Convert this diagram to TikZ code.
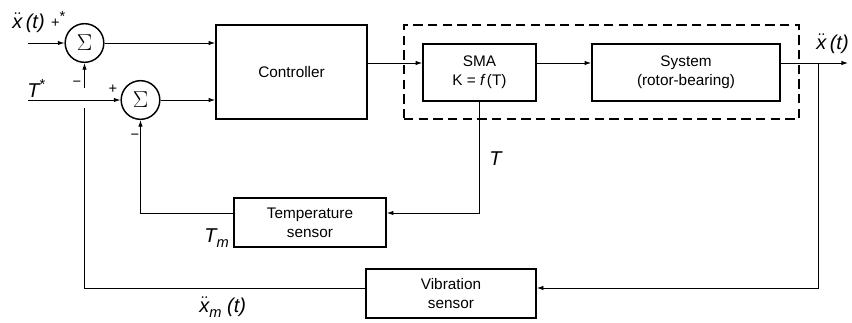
\documentclass[tikz,border=0pt]{standalone}
\usepackage{fontspec}
\setmainfont{Liberation Sans}
\usetikzlibrary{arrows.meta}
\newcommand{\xdd}{$\ddot{\mbox{\itshape x}}$}
\begin{document}
\begin{tikzpicture}[x=0.75pt,y=-0.75pt, >={Latex[length=5pt,width=3.4pt]}, line width=0.7pt]
\useasboundingbox (0,0) rectangle (852,322);
\tikzset{
 blk/.style={draw, line width=1.2pt, rectangle, align=center, inner sep=0pt, font=\fontsize{11.5}{14}\selectfont},
 sumn/.style={draw, circle, line width=1.1pt, minimum size=29pt, inner sep=0pt, font=\fontsize{16}{18}\selectfont},
 grp/.style={draw, line width=1.2pt, dash pattern=on 7pt off 4pt, inner sep=0pt},
 lab/.style={inner sep=0pt, anchor=base west, font=\fontsize{15}{17}\selectfont},
 sgn/.style={inner sep=0pt, font=\fontsize{11}{13}\selectfont},
}
% nodes
\node[sumn] (s1) at (84.5,43) {$\Sigma$};
\node[sumn] (s2) at (140.5,100) {$\Sigma$};
\node[blk, minimum width=151*0.75pt, minimum height=94*0.75pt] (ctrl) at (291.5,72) {Controller};
\node[grp, minimum width=395*0.75pt, minimum height=94*0.75pt] (plant) at (601.5,72) {};
\node[blk, minimum width=113*0.75pt, minimum height=57*0.75pt] (sma) at (479.5,72.5) {SMA\\K = {\itshape f\,}(T)};
\node[blk, minimum width=188*0.75pt, minimum height=57*0.75pt] (sys) at (686,72.5) {System\\(rotor-bearing)};
\node[blk, minimum width=152*0.75pt, minimum height=49*0.75pt] (temp) at (310,222.5) {Temperature\\sensor};
\node[blk, minimum width=170*0.75pt, minimum height=49*0.75pt] (vib) at (451,293.5) {Vibration\\sensor};
% coordinates
\coordinate (in1) at (28,43);
\coordinate (in2) at (28,100);
\coordinate (lvl) at (0,63);
\coordinate (out) at (848,63);
\coordinate (tap) at (818,63);
\coordinate (vl) at (0,288);
\coordinate (tl) at (0,213);
\coordinate (gb) at (0,108);
\coordinate (gt) at (0,88);
% connectors
\draw[->] (in1) -- (s1);
\draw[->] (s1) -- (s1 -| ctrl.west);
\draw[->] (in2) -- (s2);
\draw[->] (s2) -- (s2 -| ctrl.west);
\draw[->] (ctrl.east |- lvl) -- (sma.west |- lvl);
\draw[->] (sma.east |- lvl) -- (sys.west |- lvl);
\draw[->] (sys.east |- lvl) -- (out);
\draw[->] (tap) -- (tap |- vl) -- (vib.east |- vl);
\draw (vib.west |- vl) -- (s1 |- vl) -- (s1 |- gb);
\draw[->] (s1 |- gt) -- (s1.south);
\draw[->] (sma.south) -- (sma.south |- tl) -- (temp.east |- tl);
\draw[->] (temp.west |- tl) -- (s2 |- tl) -- (s2.south);
% labels
\node[lab] (lx1) at (12,28) {\xdd\,{\itshape(t)}};
\node[sgn] (p1) at (55.5,23) {+};
\node[sgn] (st1) at (62.5,16) {*};
\node[lab] (lT) at (27,97) {{\itshape T}\raisebox{6pt}{\fontsize{11}{13}\selectfont *}};
\node[sgn] (m1) at (77,84) {−};
\node[sgn] (p2) at (113,89) {+};
\node[sgn] (m2) at (135,137) {−};
\node[lab] (lT2) at (489,165) {\itshape T};
\node[lab] (lTm) at (204,242) {{\itshape T}\raisebox{-4pt}{\itshape\fontsize{11}{13}\selectfont m}};
\node[lab] (lx2) at (816,49) {\xdd\,{\itshape(t)}};
\node[lab] (lxm) at (199,312) {\xdd\raisebox{-4pt}{\itshape\fontsize{11}{13}\selectfont m}\ {\itshape(t)}};
\end{tikzpicture}
\end{document}
